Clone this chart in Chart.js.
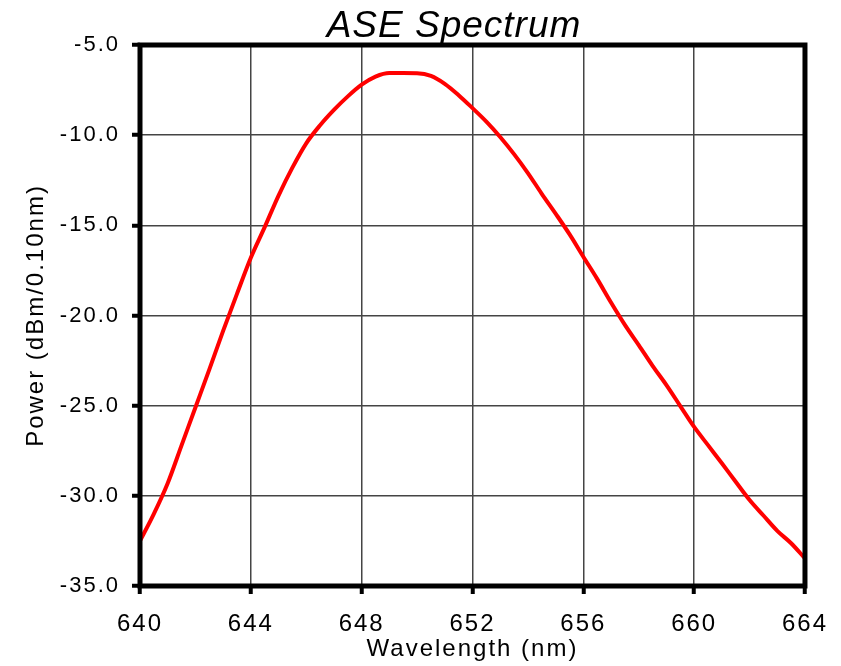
<!DOCTYPE html>
<html>
<head>
<meta charset="utf-8">
<script src="https://cdn.jsdelivr.net/npm/chart.js@4"></script>
<style>
  body { margin: 0; background: #fff; }
  #ase-chart { display: block; }
</style>
</head>
<body>
<canvas id="ase-chart" width="841" height="666"></canvas>
<script>
// Values
const wavelengths = [640, 640.5, 641, 641.5, 642, 642.5, 643, 643.5, 644, 644.5, 645, 645.5, 646, 646.5, 647, 647.5,
    648, 648.5, 649, 649.5, 650, 650.5, 651, 651.5, 652, 652.5, 653, 653.5, 654, 654.5, 655, 655.5,
    656, 656.5, 657, 657.5, 658, 658.5, 659, 659.5, 660, 660.5, 661, 661.5, 662, 662.5, 663, 663.5, 664];
const powerDbm = [-32.5, -31.0, -29.3, -27.2, -25.1, -23.0, -20.85, -18.8, -16.8, -15.1, -13.35, -11.8, -10.45, -9.45, -8.6, -7.85,
    -7.2, -6.75, -6.55, -6.55, -6.56, -6.71, -7.15, -7.78, -8.5, -9.25, -10.1, -11.05, -12.1, -13.25, -14.35, -15.49,
    -16.74, -17.97, -19.28, -20.52, -21.64, -22.79, -23.86, -25.02, -26.18, -27.19, -28.19, -29.22, -30.23, -31.09, -31.94, -32.63, -33.47];
const xTicks = [640, 644, 648, 652, 656, 660, 664];
const yTicks = [-35, -30, -25, -20, -15, -10, -5];

const chartTitle = 'ASE Spectrum';
const xTitle = 'Wavelength (nm)';
const yTitle = 'Power (dBm/0.10nm)';
const fontFamily = '"Liberation Sans", Arial, sans-serif';

const ctx = document.getElementById('ase-chart').getContext('2d');

// Wider letter spacing, title text and the heavy plot frame
const framePlugin = {
    id: 'frame',
    beforeDraw(chart) {
        chart.ctx.letterSpacing = '2px';
    },
    afterDatasetsDraw(chart) {
        const { ctx, chartArea } = chart;
        ctx.save();
        ctx.strokeStyle = '#000';
        ctx.lineWidth = 5;
        ctx.strokeRect(chartArea.left, chartArea.top, chartArea.right - chartArea.left, chartArea.bottom - chartArea.top);
        ctx.restore();
    },
    afterDraw(chart) {
        const c = chart.ctx;
        c.save();
        c.letterSpacing = '1px';
        c.font = 'italic 37px ' + fontFamily;
        c.fillStyle = '#000';
        c.textAlign = 'center';
        c.textBaseline = 'alphabetic';
        c.fillText(chartTitle, 454, 37);
        c.restore();
    }
};

new Chart(ctx, {
    type: 'line',
    data: {
        datasets: [{
            data: wavelengths.map((w, i) => ({ x: w, y: powerDbm[i] })),
            borderColor: '#ff0000',
            borderWidth: 4,
            pointRadius: 0,
            cubicInterpolationMode: 'monotone',
            fill: false
        }]
    },
    options: {
        responsive: false,
        animation: false,
        layout: { padding: { top: 45, right: 33, left: 0, bottom: 0 } },
        plugins: { legend: { display: false }, tooltip: { enabled: false } },
        scales: {
            x: {
                type: 'linear',
                min: 640,
                max: 664,
                afterBuildTicks: scale => { scale.ticks = xTicks.map(v => ({ value: v })); },
                afterFit: scale => { scale.height = 80; },
                border: { display: false },
                grid: { color: '#444', lineWidth: 1.5, tickLength: 8, tickColor: '#000', tickWidth: 4 },
                ticks: {
                    color: '#000',
                    font: { family: fontFamily, size: 24 },
                    padding: 16,
                    maxRotation: 0,
                    callback: v => String(v)
                },
                title: {
                    display: true,
                    text: xTitle,
                    color: '#000',
                    font: { family: fontFamily, size: 24 },
                    padding: { top: 0, bottom: 2 }
                }
            },
            y: {
                min: -35,
                max: -5,
                afterBuildTicks: scale => { scale.ticks = yTicks.map(v => ({ value: v })); },
                afterFit: scale => { scale.width = 140; },
                border: { display: false },
                grid: { color: '#444', lineWidth: 1.5, tickLength: 8, tickColor: '#000', tickWidth: 4 },
                ticks: {
                    color: '#000',
                    font: { family: fontFamily, size: 22 },
                    padding: 12,
                    callback: v => v.toFixed(1)
                },
                title: {
                    display: true,
                    text: yTitle,
                    color: '#000',
                    font: { family: fontFamily, size: 24 },
                    padding: { top: 22, bottom: 0 }
                }
            }
        }
    },
    plugins: [framePlugin]
});
</script>
</body>
</html>
